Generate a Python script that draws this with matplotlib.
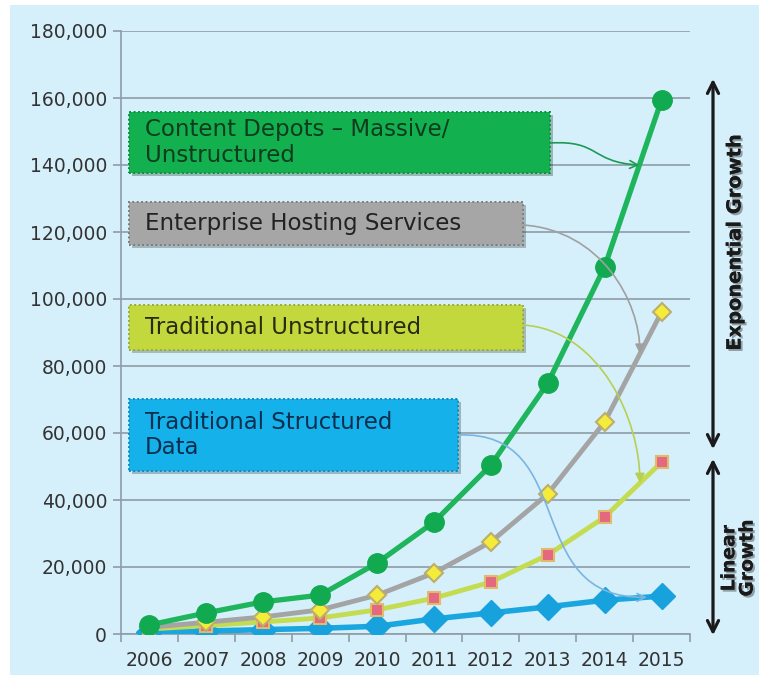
import matplotlib
matplotlib.use("Agg")
import matplotlib.pyplot as plt
import matplotlib.patheffects as pe
from matplotlib.patches import Rectangle, FancyArrowPatch
from matplotlib.path import Path
import numpy as np

years = ["2006", "2007", "2008", "2009", "2010", "2011", "2012", "2013", "2014", "2015"]
content_depots = [2700, 6300, 9600, 11600, 21200, 33400, 50400, 74900, 109600, 159400]
enterprise_hosting = [2000, 3500, 5100, 7200, 11600, 18200, 27500, 41800, 63300, 96100]
trad_unstructured = [1500, 2500, 3600, 4800, 7200, 10700, 15500, 23600, 34900, 51300]
trad_structured = [500, 900, 1300, 1700, 2300, 4500, 6300, 8100, 10100, 11300]
y_ticks = list(range(0, 180001, 20000))

W, H = 759, 675
fig = plt.figure(figsize=(W / 100, H / 100), dpi=100)
fig.patch.set_facecolor("white")
fig.patches.append(Rectangle((10 / W, 0), 1, 1 - 5 / H, transform=fig.transFigure,
                             facecolor="#d6f0fb", edgecolor="none", zorder=-10))


def fx(px):
    return px / W


def fy(py):
    return 1 - py / H


ax = fig.add_axes([fx(121), fy(634), fx(690) - fx(121), fy(31) - fy(634)])
ax.patch.set_alpha(0)
x = np.arange(len(years))

grid_c = "#8d9ca7"
ax.set_xlim(-0.5, len(years) - 0.5)
ax.set_ylim(0, 180000)
ax.set_yticks(y_ticks)
ax.set_yticklabels([f"{v:,}" for v in y_ticks])
ax.set_xticks(x)
ax.set_xticklabels(years)
ax.set_xticks(np.arange(-0.5, len(years), 1), minor=True)
ax.grid(axis="y", color=grid_c, lw=1.2, zorder=0)
for s in ["top", "right"]:
    ax.spines[s].set_visible(False)
for s in ["left", "bottom"]:
    ax.spines[s].set_color(grid_c)
    ax.spines[s].set_linewidth(1.2)
ax.tick_params(axis="y", colors=grid_c, length=6, width=1.2, pad=4,
               labelcolor="#333333", labelsize=13.5)
ax.tick_params(axis="x", which="major", length=0, pad=12,
               labelcolor="#333333", labelsize=13.5)
ax.tick_params(axis="x", which="minor", colors=grid_c, length=6, width=1.2)

ax.plot(x, trad_structured, color="#1aa7e0", lw=4, marker="D", ms=13,
        mfc="#18a2dd", mec="#18a2dd", zorder=3)
ax.plot(x, trad_unstructured, color="#c3dc50", lw=3.5, marker="s", ms=9,
        mfc="#e4687f", mec="#e2bb6a", mew=1.5, zorder=4)
ax.plot(x, enterprise_hosting, color="#a4a4a4", lw=3.5, marker="D", ms=9,
        mfc="#f5ec3a", mec="#bcae6c", mew=1.5, zorder=5)
ax.plot(x, content_depots, color="#1fb55c", lw=3.8, marker="o", ms=14,
        mfc="#12aa50", mec="#12aa50", zorder=6)

# label boxes
boxes = [
    ("Content Depots \u2013 Massive/\nUnstructured", 129, 112, 550, 173, "#12b04f", "#0b8a3b", "#0f3b1e"),
    ("Enterprise Hosting Services", 129, 202, 523, 245, "#a6a6a6", "#767676", "#222222"),
    ("Traditional Unstructured", 129, 305, 523, 350, "#c2d83c", "#93a62a", "#2a2a10"),
    ("Traditional Structured\nData", 129, 399, 458, 471, "#14b1ea", "#0a86b8", "#0b2e4f"),
]
for label, x0, y0, x1, y1, fc, ec, tc in boxes:
    r = Rectangle((fx(x0), fy(y1)), fx(x1) - fx(x0), fy(y0) - fy(y1),
                  transform=fig.transFigure, facecolor=fc, edgecolor=ec,
                  linestyle=":", lw=1.2, zorder=7)
    r.set_path_effects([pe.withSimplePatchShadow(offset=(2, -2), alpha=0.3), pe.Normal()])
    fig.patches.append(r)
    fig.text(fx(145), (fy(y0) + fy(y1)) / 2, label, fontsize=16.5, color=tc,
             ha="left", va="center", linespacing=1.15, zorder=8)

# connector arrows from boxes to lines
to_fig = ax.transData + fig.transFigure.inverted()


def on_line(series, xi):
    return to_fig.transform((xi, np.interp(xi, x, series)))


def connector(start, c1, c2, end, color, style):
    verts = [(fx(start[0]), fy(start[1])), (fx(c1[0]), fy(c1[1])),
             (fx(c2[0]), fy(c2[1])), tuple(end)]
    path = Path(verts, [Path.MOVETO, Path.CURVE4, Path.CURVE4, Path.CURVE4])
    a = FancyArrowPatch(path=path, arrowstyle=style, color=color, lw=1.2,
                        mutation_scale=14, transform=fig.transFigure, zorder=9)
    fig.patches.append(a)


connector((550, 143), (600, 140), (590, 162), on_line(content_depots, 8.61), "#1e9a55", "->")
connector((523, 225), (600, 230), (640, 300), on_line(enterprise_hosting, 8.62), "#a0a0a0", "-|>")
connector((523, 325), (600, 330), (640, 420), on_line(trad_unstructured, 8.62), "#b5d050", "-|>")
connector((458, 435), (580, 430), (520, 600), on_line(trad_structured, 8.74), "#7ab4e0", "->")

# growth annotations on the right
arrow_kw = dict(arrowstyle="<->", lw=2.3, color="#1a1a1a", mutation_scale=20)
fig.patches.append(FancyArrowPatch((fx(713), fy(452)), (fx(713), fy(76)),
                                   transform=fig.transFigure, **arrow_kw))
fig.patches.append(FancyArrowPatch((fx(713), fy(456)), (fx(713), fy(638)),
                                   transform=fig.transFigure, **arrow_kw))
shadow = [pe.withSimplePatchShadow(offset=(1.5, -1.5), alpha=0.35), pe.Normal()]
fig.text(fx(735), fy(242), "Exponential Growth", rotation=90, fontsize=14,
         fontweight="bold", color="#1a1a1a", ha="center", va="center", path_effects=shadow)
fig.text(fx(738), fy(558), "Linear\nGrowth", rotation=90, fontsize=13.5,
         fontweight="bold", color="#1a1a1a", ha="center", va="center",
         linespacing=0.95, path_effects=shadow)

fig.savefig("out.png", dpi=100, facecolor=fig.get_facecolor())
